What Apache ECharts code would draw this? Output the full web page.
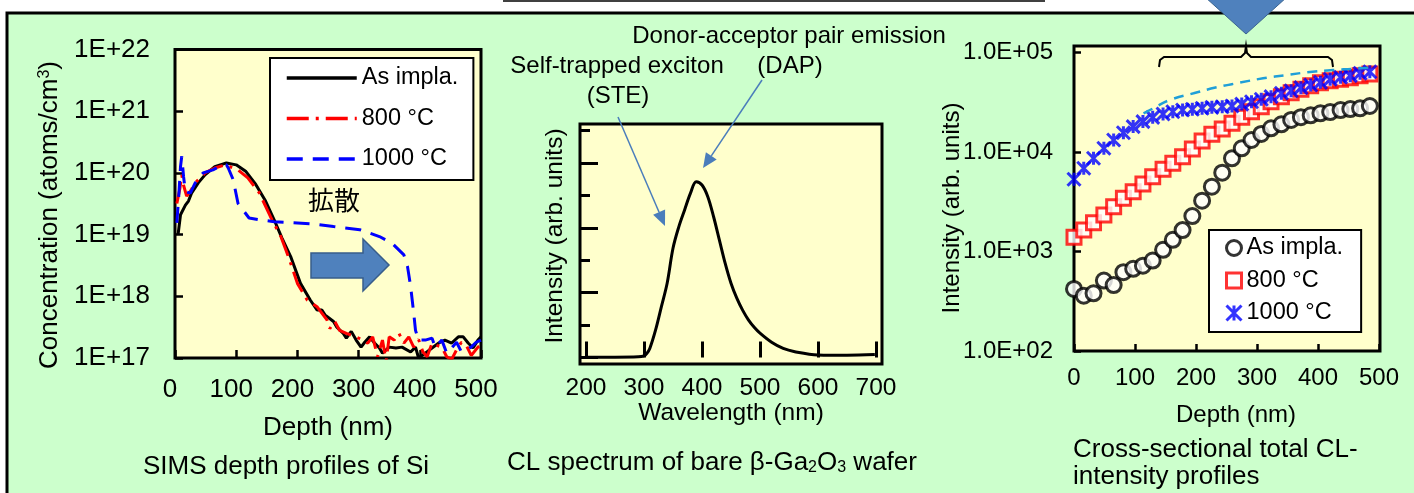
<!DOCTYPE html>
<html lang="en">
<head>
<meta charset="UTF-8">
<title>SIMS / CL profiles</title>
<script src="https://cdn.jsdelivr.net/npm/echarts@6/dist/echarts.min.js"></script>
<style>
  html, body { margin: 0; padding: 0; background: #fff; }
  #main { width: 1414px; height: 493px; }
</style>
</head>
<body>
<div id="main"></div>
<script>
// ---- SIMS depth profiles of Si (depth nm / atoms per cm3) ----
var simsDepthAs = [5, 9, 17, 22, 27, 38, 49, 65, 84, 100, 116, 132, 148, 162, 175, 189, 205, 221, 232, 240, 245, 259, 264, 275, 280, 288, 296, 304, 310, 318, 326, 334, 339, 350, 361, 371, 385, 393, 398, 409, 420, 431, 441, 452, 463, 471, 479, 487, 495, 500];
var simsConcAs = [1.0e19, 2.1e19, 3.0e19, 3.5e19, 4.7e19, 6.9e19, 9.3e19, 1.26e20, 1.45e20, 1.35e20, 1.05e20, 6.5e19, 3.5e19, 1.74e19, 8.7e18, 4.4e18, 1.62e18, 8.7e17, 6.0e17, 6.0e17, 5.0e17, 3.9e17, 3.2e17, 2.5e17, 2.1e17, 2.7e17, 1.95e17, 1.5e17, 1.8e17, 2.2e17, 1.75e17, 1.45e17, 1.2e17, 1.5e17, 1.45e17, 1.5e17, 1.25e17, 1.5e17, 1.0e17, 1.2e17, 1.45e17, 1.75e17, 1.95e17, 1.75e17, 2.2e17, 2.2e17, 1.75e17, 1.45e17, 1.95e17, 2.2e17];
var simsDepth800 = [3, 8, 11, 14, 19, 26, 33, 49, 65, 82, 103, 119, 138, 156, 173, 186, 200, 216, 232, 248, 253, 261, 269, 280, 296, 307, 315, 323, 331, 339, 345, 350, 358, 366, 374, 382, 390, 398, 405, 412, 420, 428, 436, 444, 452, 460, 468, 476, 484, 495, 500];
var simsConc800 = [3.2e19, 5.6e19, 9.3e19, 6.3e19, 4.2e19, 5.2e19, 6.9e19, 1.0e20, 1.2e20, 1.35e20, 1.12e20, 8.3e19, 4.7e19, 1.95e19, 9.3e18, 4.2e18, 1.62e18, 8.7e17, 6.8e17, 4.2e17, 3.0e17, 3.9e17, 2.8e17, 2.5e17, 2.2e17, 1.95e17, 1.74e17, 2.2e17, 1.05e17, 1.95e17, 0.9e17, 2.2e17, 1.95e17, 2.5e17, 1.74e17, 2.2e17, 1.5e17, 2.0e17, 1.26e17, 1.05e17, 1.74e17, 1.6e17, 1.5e17, 1.05e17, 0.95e17, 1.35e17, 1.8e17, 1.6e17, 1.1e17, 1.5e17, 1.6e17];
var simsDepth1000 = [3, 6, 9, 11, 14, 17, 25, 33, 46, 62, 78, 84, 87, 95, 103, 121, 138, 162, 181, 221, 259, 302, 334, 355, 374, 380, 385, 390, 393, 398, 409, 420, 425, 436, 444, 452, 460, 468, 484, 492, 500];
var simsConc1000 = [1.55e19, 4.0e19, 1.26e20, 1.86e20, 8.7e19, 5.0e19, 4.7e19, 6.9e19, 1.0e20, 1.12e20, 1.35e20, 1.35e20, 1.2e20, 7.8e19, 3.2e19, 1.86e19, 1.74e19, 1.62e19, 1.58e19, 1.5e19, 1.35e19, 1.2e19, 9.3e18, 7.2e18, 4.7e18, 3.0e18, 1.45e18, 5.4e17, 2.8e17, 1.95e17, 1.95e17, 2.1e17, 1.5e17, 1.95e17, 1.2e17, 1.45e17, 1.8e17, 1.26e17, 1.5e17, 1.8e17, 1.95e17];
var simsYLabels = ['1E+17', '1E+18', '1E+19', '1E+20', '1E+21', '1E+22'];

// ---- CL spectrum of bare wafer (nm / arb. units) ----
var clWavelength = [202, 250, 290, 300, 305, 310, 320, 330, 340, 350, 360, 370, 380, 390, 400, 410, 420, 430, 440, 450, 460, 470, 480, 490, 500, 520, 540, 560, 600, 650, 698];
var clIntensity = [0.01, 0.01, 0.02, 0.05, 0.13, 0.28, 0.85, 1.57, 2.3, 3.37, 4.03, 4.55, 5.06, 5.42, 5.32, 4.96, 4.34, 3.62, 2.9, 2.29, 1.83, 1.46, 1.16, 0.93, 0.75, 0.47, 0.28, 0.18, 0.08, 0.07, 0.09];
var clXTicks = [200, 300, 400, 500, 600, 700];
var clMajorTicks = [0, 2, 4, 6];
var clMinorTicks = [1, 3, 5, 7];

// ---- cross-sectional total CL intensity (nm / arb. units) ----
var profDepth = [0, 16, 32, 49, 65, 81, 97, 113, 129, 146, 162, 178, 194, 210, 226, 243, 259, 275, 291, 307, 323, 340, 356, 372, 388, 404, 420, 437, 453, 469, 485];
var profAsImpla = [420, 360, 380, 510, 460, 620, 670, 720, 810, 1040, 1310, 1640, 2270, 3240, 4480, 6200, 8650, 10900, 13200, 15200, 17300, 19000, 21000, 22400, 23400, 24500, 25200, 26400, 27000, 27500, 29000];
var prof800 = [1390, 1640, 1950, 2330, 2820, 3420, 3990, 4770, 5650, 6700, 7700, 8970, 10700, 12900, 15100, 17000, 19400, 22300, 25400, 28500, 32000, 36000, 39500, 42700, 46400, 49800, 52100, 53800, 55900, 58500, 60800];
var prof1000 = [5320, 6860, 8650, 10900, 13200, 15600, 18000, 20200, 22300, 24100, 25400, 26400, 26900, 27500, 28100, 28500, 29000, 30300, 32000, 33900, 36000, 38900, 41300, 44300, 47100, 50100, 53800, 56400, 58500, 61800, 64100];
var guideDepth = [114, 130, 157, 196, 234, 272, 310, 349, 387, 425, 458, 485];
var guideIntensity = [24500, 27500, 33300, 38900, 44700, 49800, 55000, 59400, 63700, 66700, 68500, 70500];
var profYLabels = ['1.0E+02', '1.0E+03', '1.0E+04', '1.0E+05'];

var FONT = "'Liberation Sans', Arial, sans-serif";
var CJK = "'Noto Sans CJK JP', 'Liberation Sans', sans-serif";

function pairs(xs, ys) {
    return xs.map(function (x, i) { return [x, ys[i]]; });
}

var tickStyle = {color: '#000', width: 2.5};
var arrowBlue = '#4a7dbb';

function text(x, y, str, size, opts) {
    opts = opts || {};
    return {
        type: 'text', x: x, y: y, z: 100,
        rotation: opts.rotation || 0,
        style: {
            text: str, fill: '#000', fontSize: size, fontFamily: opts.family || FONT,
            align: opts.align || 'center', verticalAlign: 'middle', rich: opts.rich
        }
    };
}

var chart = echarts.init(document.getElementById('main'));

var option = {
    backgroundColor: '#fff',
    animation: false,
    grid: [
        {left: 175, top: 49.5, width: 306, height: 308.5, show: true, backgroundColor: '#ffffcc', borderColor: '#000', borderWidth: 3, outerBoundsMode: 'none'},
        {left: 580, top: 124, width: 302, height: 240, show: true, backgroundColor: '#ffffcc', borderColor: '#000', borderWidth: 3, outerBoundsMode: 'none'},
        {left: 1074, top: 46, width: 306, height: 305, show: true, backgroundColor: '#ffffcc', borderColor: '#000', borderWidth: 3, outerBoundsMode: 'none'},
        {left: 1074, top: 52.5, width: 305, height: 298.5, outerBoundsMode: 'none'}
    ],
    xAxis: [
        {
            gridIndex: 0, type: 'value', min: 0, max: 500, interval: 100,
            axisLine: {show: false}, splitLine: {show: false},
            axisTick: {inside: true, length: 8, lineStyle: tickStyle},
            axisLabel: {margin: 19, color: '#000', fontSize: 26, fontFamily: FONT, padding: [0, 10, 0, 0]}
        },
        {
            gridIndex: 1, type: 'value', min: 189.66, max: 710.34,
            axisLine: {show: false}, splitLine: {show: false},
            axisTick: {inside: true, length: 16, lineStyle: {color: '#000', width: 3}, customValues: clXTicks},
            axisLabel: {margin: 12, color: '#000', fontSize: 24.5, fontFamily: FONT, customValues: clXTicks}
        },
        {gridIndex: 2, type: 'value', show: false},
        {
            gridIndex: 3, type: 'value', min: 0, max: 500, interval: 100,
            axisLine: {show: false}, splitLine: {show: false},
            axisTick: {inside: true, length: 7, lineStyle: tickStyle},
            axisLabel: {margin: 15, color: '#000', fontSize: 24, fontFamily: FONT}
        }
    ],
    yAxis: [
        {
            gridIndex: 0, type: 'log', logBase: 10, min: 1e17, max: 1e22,
            axisLine: {show: false}, splitLine: {show: false},
            axisTick: {inside: true, length: 8, lineStyle: tickStyle},
            axisLabel: {
                margin: 25, color: '#000', fontSize: 26, fontFamily: FONT,
                formatter: function (v) { return simsYLabels[Math.round(Math.log10(v)) - 17]; }
            }
        },
        {
            gridIndex: 1, type: 'value', min: -0.2, max: 7.2,
            axisLine: {show: false}, splitLine: {show: false}, axisLabel: {show: false},
            axisTick: {inside: true, length: 18, lineStyle: {color: '#000', width: 3}, customValues: clMajorTicks}
        },
        {
            gridIndex: 1, type: 'value', min: -0.2, max: 7.2, position: 'left',
            axisLine: {show: false}, splitLine: {show: false}, axisLabel: {show: false},
            axisTick: {inside: true, length: 10, lineStyle: {color: '#000', width: 3}, customValues: clMinorTicks}
        },
        {gridIndex: 2, type: 'value', show: false},
        {
            gridIndex: 3, type: 'log', logBase: 10, min: 100, max: 100000,
            axisLine: {show: false}, splitLine: {show: false},
            axisTick: {inside: true, length: 7, lineStyle: tickStyle},
            axisLabel: {
                margin: 21, color: '#000', fontSize: 24, fontFamily: FONT,
                formatter: function (v) { return profYLabels[Math.round(Math.log10(v)) - 2]; }
            }
        }
    ],
    legend: [
        {
            orient: 'vertical', left: 270, top: 58, selectedMode: false,
            padding: [8, 15, 9, 15], itemGap: 16.5, itemWidth: 70, itemHeight: 14,
            backgroundColor: '#fff', borderColor: '#000', borderWidth: 2, borderRadius: 0,
            textStyle: {fontSize: 23.5, color: '#000', fontFamily: FONT},
            itemStyle: {opacity: 0},
            lineStyle: {width: 3.5},
            data: ['As impla.', '800 °C', '1000 °C']
        },
        {
            orient: 'vertical', left: 1209, top: 230, selectedMode: false,
            padding: [6, 18, 7, 16], itemGap: 8.5, itemWidth: 15, itemHeight: 15,
            backgroundColor: '#fff', borderColor: '#000', borderWidth: 2, borderRadius: 0,
            textStyle: {fontSize: 23.5, color: '#000', fontFamily: FONT},
            itemStyle: {borderWidth: 3},
            formatter: function (name) { return name.replace('CL:', ''); },
            data: ['CL:As impla.', 'CL:800 °C', 'CL:1000 °C']
        }
    ],
    series: [
        {
            name: 'As impla.', type: 'line', xAxisIndex: 0, yAxisIndex: 0, symbol: 'none',
            data: pairs(simsDepthAs, simsConcAs),
            lineStyle: {color: '#000', width: 3}, itemStyle: {color: '#000'}
        },
        {
            name: '800 °C', type: 'line', xAxisIndex: 0, yAxisIndex: 0, symbol: 'none',
            data: pairs(simsDepth800, simsConc800),
            lineStyle: {color: '#ff0000', width: 3, type: [22, 7, 3, 7]}, itemStyle: {color: '#ff0000'}
        },
        {
            name: '1000 °C', type: 'line', xAxisIndex: 0, yAxisIndex: 0, symbol: 'none',
            data: pairs(simsDepth1000, simsConc1000),
            lineStyle: {color: '#0000ff', width: 3, type: [16, 10]}, itemStyle: {color: '#0000ff'}
        },
        {
            name: 'CL spectrum', type: 'line', xAxisIndex: 1, yAxisIndex: 1, symbol: 'none', smooth: 0.35,
            data: pairs(clWavelength, clIntensity),
            lineStyle: {color: '#000', width: 3}
        },
        {
            name: 'guide', type: 'line', xAxisIndex: 3, yAxisIndex: 4, symbol: 'none', smooth: true,
            data: pairs(guideDepth, guideIntensity),
            lineStyle: {color: '#1f9fd8', width: 2.5, type: [10, 7]}
        },
        {
            name: 'CL:As impla.', type: 'scatter', xAxisIndex: 3, yAxisIndex: 4,
            symbol: 'circle', symbolSize: 15,
            data: pairs(profDepth, profAsImpla),
            itemStyle: {color: '#fff', borderColor: '#000', borderWidth: 3}
        },
        {
            name: 'CL:800 °C', type: 'scatter', xAxisIndex: 3, yAxisIndex: 4,
            symbol: 'rect', symbolSize: 14,
            data: pairs(profDepth, prof800),
            itemStyle: {color: '#fff', borderColor: '#ff0000', borderWidth: 3}
        },
        {
            name: 'CL:1000 °C', type: 'scatter', xAxisIndex: 3, yAxisIndex: 4,
            symbol: 'path://M0,0L10,10M10,0L0,10M5,0L5,10', symbolSize: 13,
            data: pairs(profDepth, prof1000),
            itemStyle: {color: '#0000ff', borderColor: '#0000ff', borderWidth: 3}
        }
    ],
    graphic: [
        // green panel and top decorations
        {type: 'rect', z: -10, shape: {x: 7, y: 13, width: 1420, height: 500}, style: {fill: '#ccffcc', stroke: '#000', lineWidth: 3}},
        {type: 'line', z: 100, shape: {x1: 503, y1: 1, x2: 1045, y2: 1}, style: {stroke: '#404040', lineWidth: 2}},
        {type: 'polygon', z: 100, shape: {points: [[1205, -3], [1287, -3], [1246, 34]]}, style: {fill: '#4f81bd', stroke: '#3a6490', lineWidth: 1}},

        // panel 1
        text(50, 215, 'Concentration (atoms/cm{sup|3})', 26, {rotation: Math.PI / 2, rich: {sup: {fontSize: 16, verticalAlign: 'top', fontFamily: FONT}}}),
        text(328, 428, 'Depth (nm)', 26),
        text(286, 467, 'SIMS depth profiles of Si', 26),
        text(334, 200, '拡散', 26, {family: CJK}),
        {type: 'polygon', z: 100, shape: {points: [[311, 253], [363, 253], [363, 239], [389, 265], [363, 291], [363, 278], [311, 278]]}, style: {fill: '#4f81bd', stroke: '#385d8a', lineWidth: 1.5}},

        // panel 2
        text(555, 236, 'Intensity (arb. units)', 24.5, {rotation: Math.PI / 2}),
        text(731, 413, 'Wavelength (nm)', 24.5),
        text(712, 463, 'CL spectrum of bare β-Ga{sub|2}O{sub|3} wafer', 26, {rich: {sub: {fontSize: 16, lineHeight: 4, verticalAlign: 'bottom', fontFamily: FONT}}}),
        text(789, 36, 'Donor-acceptor pair emission', 24),
        text(790, 66, '(DAP)', 24),
        text(617, 66, 'Self-trapped exciton', 24),
        text(618, 96, '(STE)', 24),
        {type: 'line', z: 100, shape: {x1: 618, y1: 117, x2: 659.1, y2: 212.2}, style: {stroke: arrowBlue, lineWidth: 1.5}},
        {type: 'polygon', z: 100, shape: {points: [[665, 226], [665.1, 209.6], [653.1, 214.8]]}, style: {fill: arrowBlue}},
        {type: 'line', z: 100, shape: {x1: 762, y1: 80, x2: 711.3, y2: 155.9}, style: {stroke: arrowBlue, lineWidth: 1.5}},
        {type: 'polygon', z: 100, shape: {points: [[703, 168], [716.7, 159.5], [705.9, 152.3]]}, style: {fill: arrowBlue}},

        // panel 3
        text(952, 208, 'Intensity (arb. units)', 24, {rotation: Math.PI / 2}),
        text(1236, 415, 'Depth (nm)', 24),
        text(1073, 450, 'Cross-sectional total CL-', 26, {align: 'left'}),
        text(1073, 477, 'intensity profiles', 26, {align: 'left'}),
        {type: 'polyline', z: 100, shape: {points: [[1159, 67], [1160, 60], [1164, 57], [1241, 57], [1245, 53], [1246, 46], [1247, 53], [1251, 57], [1328, 57], [1332, 60], [1333, 67]]}, style: {stroke: '#000', lineWidth: 2, fill: null}}
    ]
};

chart.setOption(option);
window.onresize = chart.resize;
</script>
</body>
</html>
